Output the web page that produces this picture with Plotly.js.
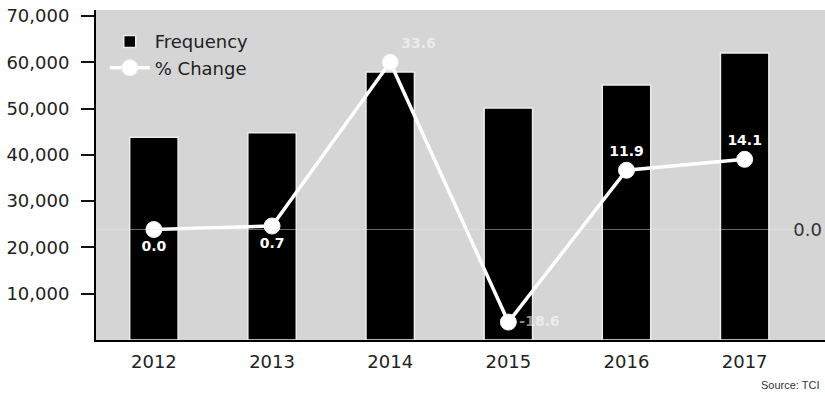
<!DOCTYPE html>
<html>
<head>
<meta charset="utf-8">
<script src="https://cdn.plot.ly/plotly-3.0.1.min.js"></script>
<style>
  html, body { margin: 0; padding: 0; background: #ffffff; }
  #chart { width: 825px; height: 396px; }
</style>
</head>
<body>
<div id="chart"></div>
<script>
// ---- data ----
const years = ['2012', '2013', '2014', '2015', '2016', '2017'];
const frequency = [43800, 44800, 57900, 50100, 55100, 62000];
const pctChange = [0.0, 0.7, 33.6, -18.6, 11.9, 14.1];
const pctLabels = ['0.0', '0.7', '33.6', '-18.6', '11.9', '14.1'];
const labelPositions = ['bottom center', 'bottom center', 'top right', 'middle right', 'top center', 'top center'];
const labelColors = ['#ffffff', '#ffffff', 'rgba(255,255,255,0.55)', 'rgba(255,255,255,0.55)', '#ffffff', '#ffffff'];
const yTicks = [10000, 20000, 30000, 40000, 50000, 60000, 70000];
const y2Ticks = [0];
const y2TickText = ['0.0'];

const FONT = 'DejaVu Sans, sans-serif';

const traces = [
  {
    type: 'bar',
    name: 'Frequency',
    x: years,
    y: frequency,
    marker: { color: '#000000', line: { color: '#ececec', width: 1.5 } },
    hoverinfo: 'skip'
  },
  {
    type: 'scatter',
    mode: 'lines+markers+text',
    name: '% Change',
    x: years,
    y: pctChange,
    yaxis: 'y2',
    text: pctLabels,
    textposition: labelPositions,
    textfont: { family: FONT, size: 14, color: labelColors, weight: 'bold' },
    line: { color: '#ffffff', width: 3.5 },
    marker: { color: '#ffffff', size: 16, line: { color: '#f4f4f4', width: 1 } },
    cliponaxis: false,
    hoverinfo: 'skip'
  }
];

const layout = {
  width: 825,
  height: 396,
  margin: { l: 96, r: 0, t: 10, b: 56 },
  paper_bgcolor: '#ffffff',
  plot_bgcolor: '#d5d5d5',
  font: { family: FONT, size: 18, color: '#222222' },
  bargap: 0.59,
  showlegend: true,
  legend: {
    x: 0.012, y: 0.96, xanchor: 'left', yanchor: 'top',
    bgcolor: 'rgba(0,0,0,0)',
    font: { family: FONT, size: 18, color: '#222222' },
    itemwidth: 40
  },
  xaxis: {
    type: 'category',
    range: [-0.49, 5.68],
    showline: true, linecolor: '#000000', linewidth: 2,
    ticks: '', showgrid: false, zeroline: false,
    ticklabelstandoff: 4,
    tickfont: { family: FONT, size: 18, color: '#222222' }
  },
  yaxis: {
    range: [0, 71300],
    tickvals: yTicks,
    tickformat: ',',
    ticks: 'outside', ticklen: 13, tickwidth: 2, tickcolor: '#111111',
    showline: true, linecolor: '#000000', linewidth: 2,
    showgrid: false, zeroline: false,
    ticklabelstandoff: 8,
    tickfont: { family: FONT, size: 18, color: '#222222' }
  },
  yaxis2: {
    overlaying: 'y',
    side: 'right',
    range: [-22.2, 44.1],
    tickvals: y2Ticks,
    ticktext: y2TickText,
    ticklabelposition: 'inside',
    ticks: '', showline: false, showgrid: false, zeroline: false,
    tickfont: { family: FONT, size: 18, color: '#333333' }
  },
  shapes: [
    {
      type: 'line', xref: 'paper', yref: 'y2',
      x0: 0, x1: 0.96, y0: 0, y1: 0,
      line: { color: 'rgba(230,230,230,0.45)', width: 1 },
      layer: 'above'
    }
  ],
  annotations: [
    {
      xref: 'paper', yref: 'paper',
      x: 0.91, y: -0.135, xanchor: 'left', yanchor: 'middle',
      text: 'Source: TCI',
      showarrow: false,
      font: { family: 'Liberation Sans Narrow, sans-serif', size: 11, color: '#333333' }
    }
  ]
};

Plotly.newPlot('chart', traces, layout, { displayModeBar: false, staticPlot: true });
</script>
</body>
</html>
